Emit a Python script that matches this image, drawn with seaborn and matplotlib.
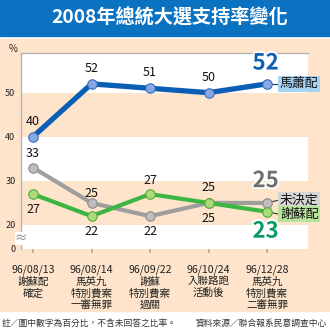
import matplotlib
matplotlib.use("Agg")
import matplotlib.pyplot as plt
import matplotlib.patches as mpatches
import matplotlib.patheffects as pe
import seaborn as sns
import pandas as pd

# ---- data ----
dates = ["96/08/13", "96/08/14", "96/09/22", "96/10/24", "96/12/28"]
events = ["謝蘇配\n確定", "馬英九\n特別費案\n一審無罪", "謝蘇\n特別費案\n過關",
          "入聯路跑\n活動後", "馬英九\n特別費案\n二審無罪"]
series_names = ["未決定", "謝蘇配", "馬蕭配"]
undecided = [33, 25, 22, 25, 25]
hsieh_su = [27, 22, 27, 25, 23]
ma_siew = [40, 52, 51, 50, 52]
ytick_vals = [20, 30, 40, 50]

sns.set_theme(style="white")
plt.rcParams["font.family"] = ["Noto Sans CJK TC", "DejaVu Sans"]

W, H = 330, 328
fig = plt.figure(figsize=(W / 100, H / 100), dpi=100)
PEACH = "#fde4cb"
fig.patch.set_facecolor("white")

def fy(px):
    return 1 - px / H

# background blocks
fig.patches.append(mpatches.Rectangle((0, fy(36)), 1, 36 / H, transform=fig.transFigure,
                                      color="#0b72c1", zorder=-10))
fig.patches.append(mpatches.Rectangle((0, fy(311)), 1, (311 - 39) / H, transform=fig.transFigure,
                                      color=PEACH, zorder=-10))
fig.text(170 / W, fy(18), "2008年總統大選支持率變化", color="white", fontsize=13.8,
         fontweight="bold", ha="center", va="center")

ax = fig.add_axes([21 / W, fy(249), (308 - 21) / W, (249 - 53) / H])
ax.set_zorder(1)
ax.set_facecolor("white")
ax.axhspan(40, 50, color=PEACH, lw=0, zorder=0)
ax.axhspan(20, 30, color=PEACH, lw=0, zorder=0)

xs = list(range(len(dates)))
df = pd.DataFrame({
    "x": xs * 3,
    "v": undecided + hsieh_su + ma_siew,
    "s": [series_names[0]] * 5 + [series_names[1]] * 5 + [series_names[2]] * 5,
})
line_col = {"未決定": "#9e9e9e", "謝蘇配": "#3db542", "馬蕭配": "#0a5fb5"}
face_col = {"未決定": "#bdbdbd", "謝蘇配": "#a9dd7c", "馬蕭配": "#86a9e2"}
edge_col = {"未決定": "#8c8c8c", "謝蘇配": "#5aa83a", "馬蕭配": "#3d6cc0"}
lw = {"未決定": 3.0, "謝蘇配": 3.0, "馬蕭配": 3.8}

for i, name in enumerate(series_names):
    sub = df[df["s"] == name]
    sns.lineplot(data=sub, x="x", y="v", ax=ax, color=line_col[name], lw=lw[name],
                 marker="o", markersize=6.8, markerfacecolor=face_col[name],
                 markeredgecolor=edge_col[name], markeredgewidth=0.8,
                 zorder=3 + i, legend=False)

ax.set_xlim(-0.205, 4.70)
ax.set_ylim(14.55, 59)
ax.set_xlabel("")
ax.set_ylabel("")

ax.set_xticks(xs)
ax.set_xticklabels([d + "\n" + e for d, e in zip(dates, events)], fontsize=7.6,
                   linespacing=1.2, color="#222222")
ax.set_yticks([14.55] + ytick_vals)
ax.set_yticklabels(["0"] + [str(v) for v in ytick_vals], fontsize=6.5, color="#222222")
ax.tick_params(axis="x", direction="out", length=3, color="#aaaaaa", pad=8, bottom=True)
ax.tick_params(axis="y", length=0, pad=4)
for s in ["right", "bottom"]:
    ax.spines[s].set_visible(False)
for s in ["top", "left"]:
    ax.spines[s].set_color("#b5b5b5")
    ax.spines[s].set_linewidth(1.0)

# axis break mark
ax.text(-0.205, 17.0, "≈", fontsize=9, color="#777777", ha="center", va="center",
        rotation=0, clip_on=False,
        bbox=dict(boxstyle="square,pad=0", fc="white", ec="none"))
fig.text(13 / W, fy(49), "%", fontsize=7, color="#222222", ha="center", va="center")

# value labels (offset in points)
offs = {
    "馬蕭配": [11, 11, 11, 11, None],
    "未決定": [10, 7, -11, 11, None],
    "謝蘇配": [-11, -11, 10, -11, None],
}
vals = {"馬蕭配": ma_siew, "未決定": undecided, "謝蘇配": hsieh_su}
for name in series_names:
    for i, (v, o) in enumerate(zip(vals[name], offs[name])):
        if o is None:
            continue
        ax.annotate(str(v), (i, v), xytext=(0, o), textcoords="offset points",
                    ha="center", va="center", fontsize=9, color="#111111", zorder=8)

big = {"馬蕭配": (15, "#0e5fb4"), "未決定": (16, "#6e6e6e"), "謝蘇配": (-14, "#0a9b68")}
for name, (o, c) in big.items():
    v = vals[name][-1]
    ax.annotate(str(v), (4, v), xytext=(-1, o), textcoords="offset points",
                ha="center", va="center", fontsize=16, fontweight="bold", color=c, zorder=9,
                path_effects=[pe.withStroke(linewidth=2.5, foreground="white")])

# right-side legend labels
lab_bg = {"馬蕭配": "#a6d3f1", "未決定": "#d6d6d6", "謝蘇配": "#b7e29b"}
lab_y = {"馬蕭配": 52, "未決定": 25.7, "謝蘇配": 22.4}
for name in series_names:
    v = vals[name][-1]
    ax.plot([4, 4.22], [v, lab_y[name]], color="#333333", lw=0.8, zorder=2, clip_on=False)
    ax.text(4.22, lab_y[name], name, fontsize=9.3, color="#111111", ha="left", va="center",
            zorder=10, clip_on=False,
            bbox=dict(boxstyle="square,pad=0.12", fc=lab_bg[name], ec="none"))

fig.text(2 / W, fy(323), "註／圖中數字為百分比，不含未回答之比率。", fontsize=6.3,
         color="#333333", ha="left", va="center")
fig.text(327 / W, fy(323), "資料來源／聯合報系民意調查中心", fontsize=6.3,
         color="#333333", ha="right", va="center")

fig.savefig("out.png", dpi=100, facecolor=fig.get_facecolor())
